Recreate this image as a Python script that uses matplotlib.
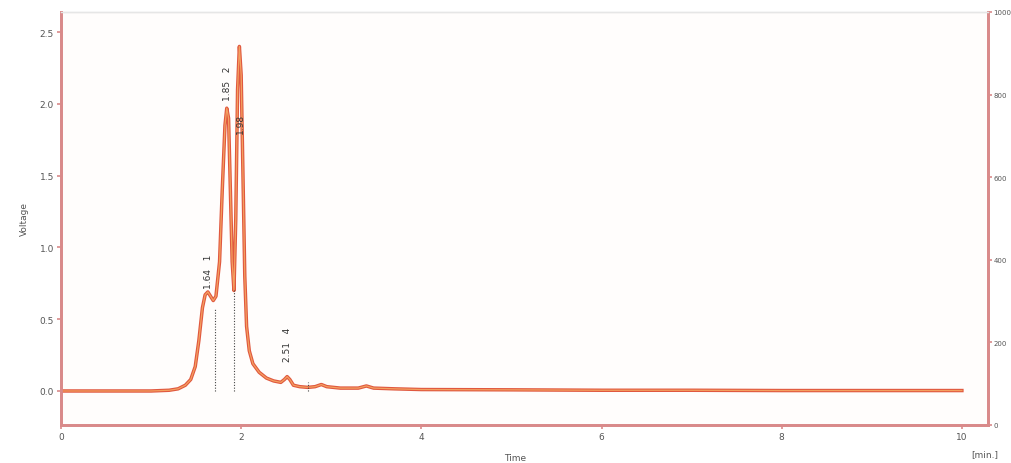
import matplotlib
matplotlib.use("Agg")
import matplotlib.pyplot as plt

# ---- data ----
time_min = [0.0, 0.5, 1.0, 1.2, 1.30, 1.38, 1.44, 1.49, 1.53, 1.57, 1.60, 1.63,
            1.66, 1.69, 1.72, 1.76, 1.79, 1.82, 1.84, 1.86, 1.88, 1.90, 1.92,
            1.94, 1.96, 1.98, 2.00, 2.02, 2.04, 2.06, 2.09, 2.13, 2.20, 2.28,
            2.36, 2.44, 2.48, 2.51, 2.54, 2.58, 2.65, 2.74, 2.82, 2.89, 2.95,
            3.1, 3.3, 3.39, 3.47, 3.7, 4.0, 5.0, 6.0, 7.0, 8.0, 9.0, 10.0]
voltage = [0.0, 0.0, 0.0, 0.005, 0.015, 0.04, 0.08, 0.17, 0.35, 0.58, 0.67, 0.69,
           0.66, 0.63, 0.66, 0.90, 1.40, 1.85, 1.97, 1.90, 1.40, 0.90, 0.70,
           1.20, 2.10, 2.40, 2.20, 1.50, 0.80, 0.45, 0.28, 0.19, 0.13, 0.09,
           0.07, 0.06, 0.08, 0.10, 0.08, 0.04, 0.03, 0.025, 0.03, 0.045, 0.03,
           0.02, 0.02, 0.035, 0.02, 0.015, 0.01, 0.008, 0.005, 0.005, 0.003, 0.003, 0.003]

peak_labels = ["1.64   1", "1.85   2", "1.98", "2.51   4"]
peak_label_t = [1.64, 1.85, 1.99, 2.51]
peak_label_v = [0.72, 2.03, 1.80, 0.21]

drop_t = [1.71, 1.92, 2.74]
drop_v = [0.58, 0.70, 0.06]

left_ticks = [0.0, 0.5, 1.0, 1.5, 2.0, 2.5]
left_ticklabels = ["0.0", "0.5", "1.0", "1.5", "2.0", "2.5"]
right_ticks = [0, 200, 400, 600, 800, 1000]
right_ticklabels = ["0", "200", "400", "600", "800", "1000"]
x_ticks = [0, 2, 4, 6, 8, 10]
x_ticklabels = ["0", "2", "4", "6", "8", "10"]

# ---- figure ----
W, H = 1011, 464
fig = plt.figure(figsize=(W / 100, H / 100), dpi=100)
fig.patch.set_facecolor("white")
ax = fig.add_axes([61 / W, 1 - 426 / H, (988 - 61) / W, (426 - 13) / H])
ax.set_facecolor("#fffdfc")

spine_col = "#d98a8a"
tick_txt = "#555555"

ax.plot(time_min, voltage, color="#e0583f", lw=2.5, solid_joinstyle="round", zorder=3)
ax.plot(time_min, voltage, color="#f4a060", lw=0.9, solid_joinstyle="round", zorder=4)

for t, v in zip(drop_t, drop_v):
    ax.plot([t, t], [0.0, v], color="#444444", lw=0.8, ls=(0, (1, 1.5)), zorder=5)

for lab, t, v in zip(peak_labels, peak_label_t, peak_label_v):
    ax.text(t, v, lab, rotation=90, ha="center", va="bottom", fontsize=6.5,
            color="#333333", zorder=6)

ax.set_xlim(0, 10.29)
ax.set_ylim(-0.237, 2.64)
ax.set_xticks(x_ticks)
ax.set_xticklabels(x_ticklabels)
ax.set_yticks(left_ticks)
ax.set_yticklabels(left_ticklabels)

ax2 = ax.twinx()
ax2.set_ylim(0, 1000)
ax2.set_yticks(right_ticks)
ax2.set_yticklabels(right_ticklabels)

for a in (ax, ax2):
    for s in ("left", "bottom", "right"):
        a.spines[s].set_color(spine_col)
        a.spines[s].set_linewidth(2.0)
    a.spines["top"].set_color("#e6e6e6")
    a.spines["top"].set_linewidth(1.0)
    a.tick_params(colors=spine_col, labelcolor=tick_txt, labelsize=6.5,
                  length=3, width=1.2, direction="out", pad=2)
ax2.tick_params(labelsize=5.0, pad=1.0)

ax.set_ylabel("Voltage", fontsize=6.5, color=tick_txt, labelpad=8)
fig.text(515 / W, 1 - 459 / H, "Time", fontsize=6.5, color=tick_txt,
         ha="center", va="center")
fig.text(985 / W, 1 - 455 / H, "[min.]", fontsize=6.5, color=tick_txt,
         ha="center", va="center")

fig.savefig("out.png", dpi=100)
